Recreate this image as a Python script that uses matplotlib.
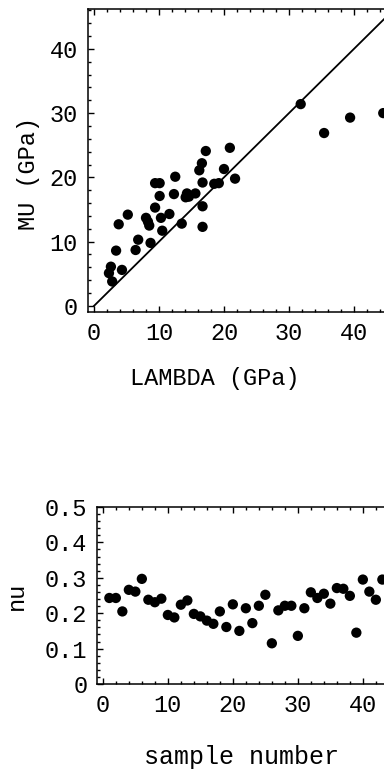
import matplotlib
matplotlib.use("Agg")
import matplotlib.pyplot as plt
from matplotlib.ticker import MultipleLocator

plt.rcParams['font.family'] = ['Liberation Mono', 'DejaVu Sans Mono']

# Top panel: LAMBDA vs MU (GPa)
lam = [31.8, 35.4, 39.4, 17.2, 20.9, 16.6, 16.2, 20.0, 12.5, 9.4, 10.1, 16.7,
       18.5, 19.2, 21.7, 10.1, 12.3, 14.3, 14.6, 15.6, 14.1, 16.7, 9.4, 5.2,
       11.6, 8.0, 8.3, 8.5, 10.3, 3.8, 13.5, 16.7, 10.5, 6.8, 8.7, 6.4, 3.4,
       2.6, 2.3, 4.3, 2.8, 44.5]
mu = [31.4, 26.9, 29.3, 24.1, 24.6, 22.2, 21.1, 21.3, 20.1, 19.1, 19.1, 19.2,
      19.0, 19.1, 19.8, 17.1, 17.4, 17.5, 17.0, 17.5, 16.9, 15.5, 15.3, 14.2,
      14.3, 13.7, 13.1, 12.5, 13.7, 12.7, 12.8, 12.3, 11.7, 10.3, 9.8, 8.7, 8.6,
      6.1, 5.1, 5.6, 3.8, 30.0]
line_x = [0, 50]
x_ticks = [0, 10, 20, 30, 40, 50]
x_labels = ['0', '10', '20', '30', '40', '']

# Bottom panel: nu vs sample number
sample = list(range(1, 44))
nu = [0.243, 0.243, 0.205, 0.266, 0.261, 0.297, 0.238, 0.231, 0.241, 0.195,
      0.188, 0.224, 0.236, 0.198, 0.191, 0.179, 0.170, 0.205, 0.161, 0.225,
      0.150, 0.214, 0.172, 0.221, 0.252, 0.115, 0.208, 0.221, 0.221, 0.136,
      0.214, 0.259, 0.243, 0.255, 0.227, 0.271, 0.269, 0.249, 0.145, 0.295,
      0.261, 0.238, 0.295]
nu_ticks = [0, 0.1, 0.2, 0.3, 0.4, 0.5]
nu_labels = ['0', '0.1', '0.2', '0.3', '0.4', '0.5']

W, H = 384, 771
fig = plt.figure(figsize=(W / 100, H / 100), dpi=100)

def ax_px(l, t, r, b):
    return fig.add_axes([l / W, 1 - b / H, (r - l) / W, (b - t) / H])

FS = 17

def style(ax):
    for s in ax.spines.values():
        s.set_linewidth(1.1)
    ax.tick_params(which='both', direction='in', top=True, right=True,
                   labelsize=FS, width=1.0)
    ax.tick_params(which='major', length=4, pad=7)
    ax.tick_params(which='minor', length=2)

# Top axes
T_L, T_T, T_R, T_B = 87.5, 9, 87.5 + 51 * 6.5, 312
ax1 = ax_px(T_L, T_T, T_R, T_B)
ax1.scatter(lam, mu, s=55, color='black', edgecolors='none', zorder=3)
ax1.plot(line_x, line_x, color='black', lw=1.3)
ax1.set_xlim(-1, 50)
ax1.set_ylim(-0.95, 46.2)
ax1.set_xticks(x_ticks)
ax1.set_xticklabels(x_labels)
ax1.xaxis.set_minor_locator(MultipleLocator(2))
ax1.yaxis.set_major_locator(MultipleLocator(10))
ax1.yaxis.set_minor_locator(MultipleLocator(2))
style(ax1)
ax1.set_xlabel('LAMBDA (GPa)', fontsize=FS)
ax1.set_ylabel('MU (GPa)', fontsize=FS)
ax1.xaxis.set_label_coords((215 - T_L) / (T_R - T_L), -(367 - T_B) / (T_B - T_T))
ax1.yaxis.set_label_coords(-(T_L - 40) / (T_R - T_L), (T_B - 174) / (T_B - T_T))

# Bottom axes
B_L, B_T, B_R, B_B = 97, 507, 97 + 52 * 6.5, 684
ax2 = ax_px(B_L, B_T, B_R, B_B)
ax2.scatter(sample, nu, s=55, color='black', edgecolors='none', zorder=3)
ax2.set_xlim(-0.9, 51.1)
ax2.set_ylim(0, 0.5)
ax2.set_xticks(x_ticks)
ax2.set_xticklabels(x_labels)
ax2.xaxis.set_minor_locator(MultipleLocator(2))
ax2.yaxis.set_minor_locator(MultipleLocator(0.02))
ax2.set_yticks(nu_ticks)
ax2.set_yticklabels(nu_labels)
style(ax2)
ax2.set_xlabel('sample number', fontsize=18)
ax2.set_ylabel('nu', fontsize=FS)
ax2.xaxis.set_label_coords((242 - B_L) / (B_R - B_L), -(745 - B_B) / (B_B - B_T))
ax2.yaxis.set_label_coords(-(B_L - 28) / (B_R - B_L), 0.5)

fig.savefig('out.png', dpi=100)
